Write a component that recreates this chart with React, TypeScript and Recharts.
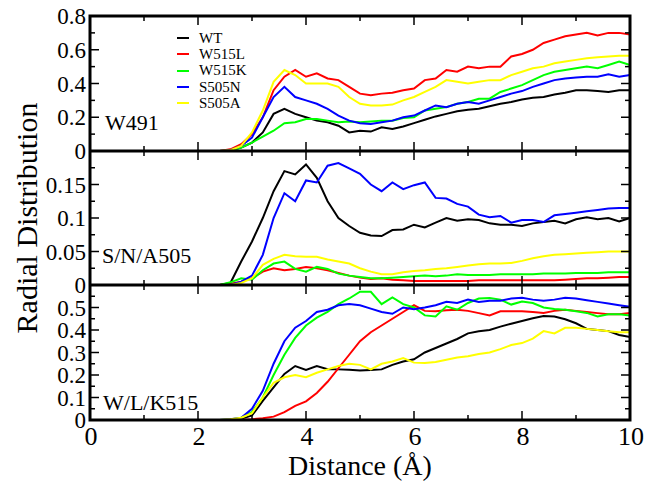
import React from "react";
import { LineChart, Line, XAxis, YAxis, Legend } from "recharts";

// distance grid (Å)
const DIST = [
  2.4, 2.6, 2.8, 3.0, 3.2, 3.4, 3.6, 3.8, 4.0, 4.2, 4.4, 4.6, 4.8, 5.0, 5.2, 5.4, 5.6, 5.8, 6.0, 6.2,
  6.4, 6.6, 6.8, 7.0, 7.2, 7.4, 7.6, 7.8, 8.0, 8.2, 8.4, 8.6, 8.8, 9.0, 9.2, 9.4, 9.6, 9.8, 10.0,
];

const SERIES = ["WT", "W515L", "W515K", "S505N", "S505A"];
const COLORS = ["#000000", "#ff0000", "#00ff00", "#0000ff", "#ffff00"];

// W491 panel
const W491_WT = [0, 0.003, 0.02, 0.05, 0.11, 0.22, 0.25, 0.22, 0.2, 0.18, 0.17, 0.15, 0.11, 0.12, 0.115, 0.14, 0.13, 0.145, 0.165, 0.185, 0.205, 0.22, 0.235, 0.245, 0.25, 0.265, 0.28, 0.29, 0.305, 0.315, 0.32, 0.335, 0.345, 0.36, 0.36, 0.355, 0.35, 0.36, 0.36];
const W491_W515L = [0, 0.01, 0.04, 0.1, 0.2, 0.36, 0.44, 0.48, 0.44, 0.46, 0.43, 0.42, 0.38, 0.34, 0.33, 0.34, 0.345, 0.36, 0.37, 0.42, 0.43, 0.48, 0.47, 0.5, 0.49, 0.5, 0.5, 0.56, 0.575, 0.6, 0.64, 0.66, 0.68, 0.69, 0.7, 0.685, 0.7, 0.7, 0.69];
const W491_W515K = [0, 0.003, 0.02, 0.05, 0.085, 0.12, 0.165, 0.17, 0.19, 0.19, 0.18, 0.17, 0.175, 0.17, 0.175, 0.18, 0.18, 0.195, 0.2, 0.24, 0.25, 0.26, 0.28, 0.29, 0.31, 0.31, 0.35, 0.37, 0.39, 0.42, 0.45, 0.47, 0.48, 0.49, 0.5, 0.49, 0.51, 0.53, 0.51];
const W491_S505N = [0, 0.005, 0.03, 0.08, 0.2, 0.32, 0.38, 0.32, 0.3, 0.28, 0.25, 0.21, 0.18, 0.165, 0.16, 0.17, 0.18, 0.2, 0.21, 0.24, 0.27, 0.26, 0.28, 0.29, 0.28, 0.3, 0.32, 0.34, 0.355, 0.38, 0.4, 0.42, 0.43, 0.435, 0.44, 0.44, 0.455, 0.44, 0.45];
const W491_S505A = [0, 0.005, 0.03, 0.11, 0.24, 0.41, 0.48, 0.45, 0.4, 0.4, 0.4, 0.38, 0.32, 0.28, 0.27, 0.27, 0.275, 0.3, 0.32, 0.35, 0.38, 0.42, 0.41, 0.4, 0.41, 0.42, 0.42, 0.45, 0.47, 0.49, 0.5, 0.52, 0.53, 0.54, 0.55, 0.555, 0.56, 0.565, 0.565];

// S/N/A505 panel
const A505_WT = [0, 0.003, 0.035, 0.065, 0.1, 0.14, 0.17, 0.165, 0.18, 0.16, 0.125, 0.1, 0.088, 0.078, 0.074, 0.073, 0.082, 0.083, 0.09, 0.086, 0.093, 0.1, 0.096, 0.098, 0.097, 0.092, 0.09, 0.09, 0.088, 0.092, 0.094, 0.096, 0.092, 0.098, 0.101, 0.098, 0.1, 0.095, 0.1];
const A505_W515L = [0, 0.002, 0.005, 0.01, 0.02, 0.025, 0.022, 0.024, 0.027, 0.025, 0.022, 0.018, 0.014, 0.011, 0.009, 0.01, 0.008, 0.007, 0.006, 0.006, 0.006, 0.006, 0.006, 0.006, 0.007, 0.007, 0.007, 0.007, 0.007, 0.007, 0.007, 0.007, 0.008, 0.009, 0.01, 0.01, 0.011, 0.012, 0.012];
const A505_W515K = [0, 0.004, 0.01, 0.008, 0.022, 0.032, 0.035, 0.024, 0.02, 0.027, 0.024, 0.017, 0.014, 0.012, 0.01, 0.01, 0.011, 0.012, 0.013, 0.014, 0.013, 0.014, 0.016, 0.015, 0.015, 0.015, 0.016, 0.016, 0.016, 0.016, 0.017, 0.017, 0.017, 0.018, 0.018, 0.018, 0.019, 0.019, 0.019];
const A505_S505N = [0, 0, 0.005, 0.014, 0.045, 0.1, 0.137, 0.125, 0.156, 0.153, 0.178, 0.182, 0.174, 0.166, 0.15, 0.14, 0.153, 0.143, 0.149, 0.153, 0.13, 0.129, 0.121, 0.117, 0.105, 0.101, 0.103, 0.093, 0.097, 0.097, 0.094, 0.104, 0.106, 0.108, 0.11, 0.112, 0.114, 0.115, 0.115];
const A505_S505A = [0, 0, 0.003, 0.01, 0.03, 0.039, 0.045, 0.043, 0.042, 0.042, 0.038, 0.035, 0.032, 0.025, 0.02, 0.016, 0.016, 0.019, 0.021, 0.022, 0.024, 0.025, 0.027, 0.029, 0.031, 0.032, 0.032, 0.033, 0.036, 0.04, 0.043, 0.045, 0.046, 0.047, 0.048, 0.049, 0.05, 0.05, 0.05];

// W/L/K515 panel
const K515_WT = [0, 0, 0.005, 0.02, 0.085, 0.145, 0.205, 0.24, 0.223, 0.24, 0.226, 0.225, 0.223, 0.22, 0.222, 0.225, 0.245, 0.26, 0.27, 0.3, 0.32, 0.34, 0.36, 0.385, 0.394, 0.4, 0.415, 0.428, 0.44, 0.452, 0.462, 0.46, 0.448, 0.43, 0.405, 0.4, 0.395, 0.378, 0.369];
const K515_W515L = [0, 0, 0, 0.003, 0.008, 0.015, 0.035, 0.063, 0.083, 0.12, 0.17, 0.23, 0.29, 0.35, 0.39, 0.42, 0.45, 0.48, 0.51, 0.485, 0.483, 0.488, 0.49, 0.485, 0.475, 0.465, 0.483, 0.483, 0.483, 0.48, 0.476, 0.485, 0.49, 0.485, 0.48, 0.475, 0.47, 0.47, 0.476];
const K515_W515K = [0, 0.002, 0.01, 0.035, 0.1, 0.2, 0.29, 0.365, 0.42, 0.455, 0.48, 0.515, 0.54, 0.57, 0.57, 0.515, 0.545, 0.515, 0.5, 0.465, 0.46, 0.505, 0.49, 0.52, 0.54, 0.542, 0.535, 0.513, 0.527, 0.52, 0.5, 0.493, 0.49, 0.483, 0.476, 0.46, 0.47, 0.47, 0.464];
const K515_S505N = [0, 0.003, 0.01, 0.05, 0.13, 0.25, 0.35, 0.41, 0.44, 0.48, 0.49, 0.51, 0.515, 0.51, 0.495, 0.48, 0.472, 0.5, 0.492, 0.5, 0.51, 0.525, 0.52, 0.535, 0.525, 0.53, 0.53, 0.54, 0.543, 0.535, 0.53, 0.535, 0.543, 0.54, 0.532, 0.525, 0.518, 0.51, 0.503];
const K515_S505A = [0, 0.003, 0.01, 0.03, 0.1, 0.165, 0.19, 0.2, 0.19, 0.21, 0.225, 0.24, 0.25, 0.245, 0.225, 0.25, 0.26, 0.275, 0.255, 0.253, 0.258, 0.268, 0.278, 0.283, 0.293, 0.3, 0.315, 0.333, 0.342, 0.362, 0.395, 0.385, 0.41, 0.41, 0.405, 0.4, 0.394, 0.39, 0.39];

// ticks
const X_TICKS = [0, 1, 2, 3, 4, 5, 6, 7, 8, 9, 10];
const X_LABELS = [0, 2, 4, 6, 8, 10];
const W491_TICKS = [0, 0.1, 0.2, 0.3, 0.4, 0.5, 0.6, 0.7, 0.8];
const W491_MAJOR = [0, 0.2, 0.4, 0.6, 0.8];
const W491_LABELS = [0, 0.2, 0.4, 0.6, 0.8];
const A505_TICKS = [0, 0.025, 0.05, 0.075, 0.1, 0.125, 0.15, 0.175, 0.2];
const A505_MAJOR = [0, 0.05, 0.1, 0.15, 0.2];
const A505_LABELS = [0, 0.05, 0.1, 0.15];
const K515_TICKS = [0, 0.05, 0.1, 0.15, 0.2, 0.25, 0.3, 0.35, 0.4, 0.45, 0.5, 0.55, 0.6];
const K515_MAJOR = [0, 0.1, 0.2, 0.3, 0.4, 0.5, 0.6];
const K515_LABELS = [0, 0.1, 0.2, 0.3, 0.4, 0.5];

const FONT = '"Liberation Serif", "Times New Roman", serif';
const PLOT_L = 90;
const PLOT_R = 630;
const MT = 12; // room above plot for tick labels

const has = (arr: number[], v: number) => arr.some((a) => Math.abs(a - v) < 1e-9);
const fmt = (v: number) => String(Number(v.toFixed(3)));

interface PanelProps {
  top: number;
  h: number;
  series: number[][];
  ticks: number[];
  major: number[];
  labels: number[];
  bottomAxis?: boolean;
  legend?: boolean;
}

const LegendBox = (props: any) => {
  const items = [...(props.payload || [])].sort(
    (a: any, b: any) => SERIES.indexOf(a.value) - SERIES.indexOf(b.value)
  );
  return (
    <div style={{ fontFamily: FONT, fontSize: 15 }}>
      {items.map((it: any) => (
        <div key={it.value} style={{ display: "flex", alignItems: "center", height: 16.3 }}>
          <span style={{ display: "inline-block", width: 12, height: 2, background: it.color, marginRight: 10 }} />
          <span>{it.value}</span>
        </div>
      ))}
    </div>
  );
};

const Panel: React.FC<PanelProps> = ({ top, h, series, ticks, major, labels, bottomAxis, legend }) => {
  const data = DIST.map((x, i) => {
    const row: Record<string, number> = { x };
    series.forEach((s, k) => (row[SERIES[k]] = s[i]));
    return row;
  });
  const axisH = bottomAxis ? 60 : 12;

  const yTick = (p: any) => {
    const v = p.payload.value;
    const len = has(major, v) ? 9 : 5;
    return (
      <g>
        <line x1={PLOT_L} x2={PLOT_L + len} y1={p.y} y2={p.y} stroke="#000" strokeWidth={1.5} />
        <line x1={PLOT_R - len} x2={PLOT_R} y1={p.y} y2={p.y} stroke="#000" strokeWidth={1.5} />
        {has(labels, v) && (
          <text x={PLOT_L - 4} y={p.y + 8} textAnchor="end" fontSize={23} fontFamily={FONT} fill="#000">
            {fmt(v)}
          </text>
        )}
      </g>
    );
  };

  const xTick = (p: any) => {
    const v = p.payload.value;
    const len = has(X_LABELS, v) ? 9 : 5;
    return (
      <g>
        <line x1={p.x} x2={p.x} y1={MT} y2={MT + len} stroke="#000" strokeWidth={1.5} />
        <line x1={p.x} x2={p.x} y1={MT + h - len} y2={MT + h} stroke="#000" strokeWidth={1.5} />
        {bottomAxis && has(X_LABELS, v) && (
          <text x={p.x + 1} y={MT + h + 25} textAnchor="middle" fontSize={26} fontFamily={FONT} fill="#000">
            {v}
          </text>
        )}
      </g>
    );
  };

  return (
    <div style={{ position: "absolute", left: 0, top: top - MT }}>
      <LineChart width={655} height={MT + h + axisH} data={data} margin={{ top: MT, right: 25, bottom: 0, left: 30 }}>
        <XAxis
          dataKey="x"
          type="number"
          domain={[0, 10]}
          ticks={X_TICKS}
          interval={0}
          tick={xTick}
          tickLine={false}
          axisLine={false}
          height={axisH}
        />
        <YAxis
          type="number"
          domain={[ticks[0], ticks[ticks.length - 1]]}
          ticks={ticks}
          interval={0}
          tick={yTick}
          tickLine={false}
          axisLine={false}
          width={60}
        />
        {legend && (
          <Legend
            layout="vertical"
            align="center"
            verticalAlign="middle"
            content={LegendBox}
            wrapperStyle={{ position: "absolute", left: 177, top: MT + 14, width: 120 }}
          />
        )}
        {SERIES.map((s, k) => (
          <Line
            key={s}
            dataKey={s}
            name={s}
            stroke={COLORS[k]}
            strokeWidth={2}
            dot={false}
            isAnimationActive={false}
          />
        ))}
      </LineChart>
    </div>
  );
};

export default function App() {
  return (
    <div style={{ position: "absolute", left: 0, top: 0, width: 655, height: 484, background: "#fff" }}>
      <Panel
        top={16}
        h={135}
        series={[W491_WT, W491_W515L, W491_W515K, W491_S505N, W491_S505A]}
        ticks={W491_TICKS}
        major={W491_MAJOR}
        labels={W491_LABELS}
        legend
      />
      <Panel
        top={151}
        h={134}
        series={[A505_WT, A505_W515L, A505_W515K, A505_S505N, A505_S505A]}
        ticks={A505_TICKS}
        major={A505_MAJOR}
        labels={A505_LABELS}
      />
      <Panel
        top={285}
        h={135}
        series={[K515_WT, K515_W515L, K515_W515K, K515_S505N, K515_S505A]}
        ticks={K515_TICKS}
        major={K515_MAJOR}
        labels={K515_LABELS}
        bottomAxis
      />
      <svg
        width={655}
        height={484}
        style={{ position: "absolute", left: 0, top: 0, pointerEvents: "none" }}
        fontFamily={FONT}
      >
        <rect x={PLOT_L} y={16} width={PLOT_R - PLOT_L} height={404} fill="none" stroke="#000" strokeWidth={3} />
        <line x1={PLOT_L} x2={PLOT_R} y1={151} y2={151} stroke="#000" strokeWidth={3} />
        <line x1={PLOT_L} x2={PLOT_R} y1={285} y2={285} stroke="#000" strokeWidth={3} />
        <text x={105} y={130} fontSize={22}>W491</text>
        <text x={102} y={263} fontSize={22}>S/N/A505</text>
        <text x={103} y={410} fontSize={22}>W/L/K515</text>
        <text x={37} y={218} fontSize={30} textAnchor="middle" transform="rotate(-90 37 218)">
          Radial Distribution
        </text>
        <text x={360} y={475} fontSize={28} textAnchor="middle">
          Distance (Å)
        </text>
      </svg>
    </div>
  );
}
